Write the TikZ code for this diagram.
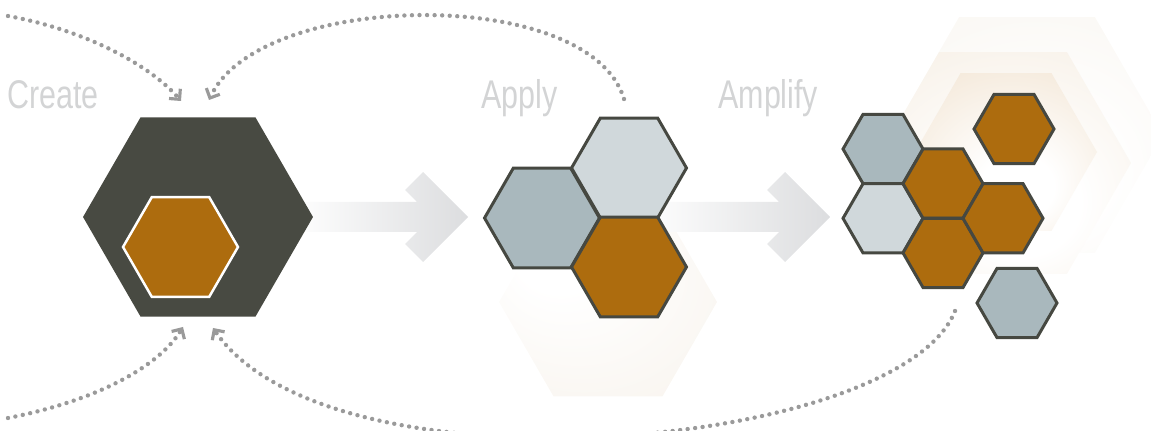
\documentclass[tikz,border=0pt]{standalone}
\usepackage{fontspec}
\newfontfamily\stagefont[FakeStretch=0.76]{Liberation Sans}
\usepackage{tikz}
\usetikzlibrary{arrows.meta, shapes.geometric, positioning}
\definecolor{hexdark}{HTML}{484A42}
\definecolor{hexorange}{HTML}{AD6C0E}
\definecolor{hexblue}{HTML}{A9B8BD}
\definecolor{hexlight}{HTML}{D0D8DB}
\definecolor{hexline}{HTML}{464841}
\definecolor{labelgray}{HTML}{D3D4D5}
\definecolor{dotgray}{HTML}{9A9A9A}
\definecolor{arrowgray}{HTML}{DCDDDF}
\definecolor{glowP}{HTML}{F7F2EB}
\definecolor{glowA}{HTML}{F9F6F1}
\definecolor{glowB}{HTML}{F6EEE3}
\definecolor{glowC}{HTML}{F3E6D5}
\pgfdeclareradialshading{offglowP}{\pgfpoint{-14bp}{16bp}}{color(0bp)=(white); color(10bp)=(white);
    color(45bp)=(glowP); color(50bp)=(glowP)}
\pgfdeclareradialshading{offglowA}{\pgfpoint{4bp}{-12bp}}{color(0bp)=(white); color(12bp)=(white);
    color(40bp)=(glowA); color(50bp)=(glowA)}
\pgfdeclareradialshading{offglowB}{\pgfpoint{4bp}{-12bp}}{color(0bp)=(white); color(12bp)=(white);
    color(40bp)=(glowB); color(50bp)=(glowB)}
\pgfdeclareradialshading{offglowC}{\pgfpoint{4bp}{-14bp}}{color(0bp)=(white); color(10bp)=(white);
    color(38bp)=(glowC); color(50bp)=(glowC)}
\tikzset{
    hexa/.style={regular polygon, regular polygon sides=6, inner sep=0pt, outer sep=0pt, minimum size=#1},
    cell/.style={hexa=#1, draw=hexline, line width=1.7pt},
    glow/.style={shade, shading=offglow#1},
    stage/.style={text=labelgray, font=\stagefont\fontsize{22.8}{24}\selectfont, anchor=base west, inner sep=0pt},
    dotlink/.style={dotgray, line width=2.5pt, line cap=round, dash pattern=on 0pt off 4.3pt,
        -{Straight Barb[angle=90:6pt, line width=1.8pt, sharp]}}
}

\begin{document}
\begin{tikzpicture}[x=0.02cm, y=-0.02cm]
    \useasboundingbox (0,0) rectangle (1151,431);
    \clip (0,0) rectangle (1151,431);
    % soft glows
    \node[hexa=4.36cm, glow=P] (applyglow) at (608,302) {};
    \node[hexa=5.44cm, glow=A] (glowout) at (1027,135) {};
    \node[hexa=5.12cm, glow=B] (glowmid) at (1003,163) {};
    \node[hexa=3.64cm, glow=C] (glowin) at (1006,152) {};
    % big arrows
    \foreach \sx/\tx in {290/468, 640/830} {
        \shade[left color=white, right color=arrowgray] (\sx,202) -- (\tx-51,202) -- (\tx-63,190) -- (\tx-45,172)
            -- (\tx,217) -- (\tx-45,262) -- (\tx-63,244) -- (\tx-51,232) -- (\sx,232) -- cycle;
    }
    % create
    \node[hexa=4.6cm, fill=hexdark] (create) at (198,217) {};
    \node[hexa=2.3cm, fill=hexorange, draw=white, line width=1.4pt] (seed) at (180.5,247) {};
    % apply
    \node[cell=2.3cm, fill=hexblue] (apply1) at (542,218) {};
    \node[cell=2.3cm, fill=hexlight] (apply2) at (629,168) {};
    \node[cell=2.3cm, fill=hexorange] (apply3) at (629,267) {};
    % amplify
    \node[cell=1.6cm, fill=hexblue] (amp1) at (883,149) {};
    \node[cell=1.6cm, fill=hexlight] (amp2) at (883,218.3) {};
    \node[cell=1.6cm, fill=hexorange] (amp3) at (943,183.6) {};
    \node[cell=1.6cm, fill=hexorange] (amp4) at (943,252.9) {};
    \node[cell=1.6cm, fill=hexorange] (amp5) at (1003,218.3) {};
    \node[cell=1.6cm, fill=hexorange] (amp6) at (1014,129) {};
    \node[cell=1.6cm, fill=hexblue] (amp7) at (1017,303) {};
    % labels
    \node[stage] (lcreate) at (7,109) {Create};
    \node[stage] (lapply) at (481,109) {Apply};
    \node[stage] (lamplify) at (718,109) {Amplify};
    % dotted loops back to create
    \coordinate (intl) at (181,101);
    \coordinate (intr) at (209,100);
    \coordinate (inbl) at (183,327);
    \coordinate (inbr) at (213,328);
    \coordinate (farTL) at (8,16);
    \coordinate (farBL) at (8,418);
    \coordinate (fromapply) at (624,99);
    \coordinate (fromamp) at (955,311);
    \draw[dotlink] (farTL) .. controls (85,30) and (150,65) .. (intl);
    \draw[dotlink] (fromapply) .. controls (590,-15) and (260,-10) .. (intr);
    \draw[dotlink] (farBL) .. controls (100,400) and (160,365) .. (inbl);
    \draw[dotlink] (fromamp) .. controls (900,450) and (330,500) .. (inbr);
\end{tikzpicture}
\end{document}
